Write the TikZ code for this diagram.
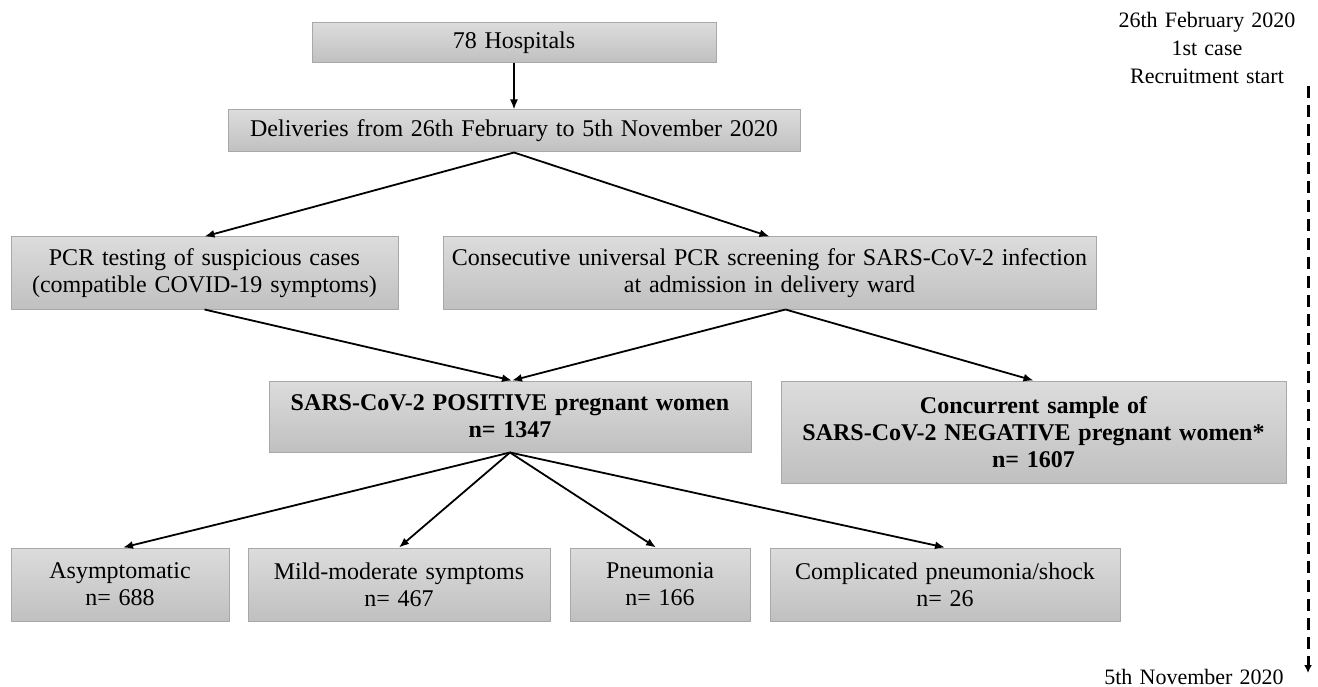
\documentclass[tikz,border=0pt]{standalone}
\usepackage{fontspec}
\setmainfont{Liberation Serif}[WordSpace=1.3]
\usetikzlibrary{arrows.meta,calc}
\definecolor{boxtop}{RGB}{220,220,220}
\definecolor{boxbot}{RGB}{192,192,192}
\definecolor{boxline}{RGB}{168,168,168}
\tikzset{
  box/.style={draw=boxline, line width=1pt, top color=boxtop, bottom color=boxbot,
    align=center, inner sep=0pt, font=\fontsize{24}{27}\selectfont},
  boldbox/.style={box, font=\fontsize{24}{27}\selectfont\bfseries},
  conn/.style={draw=black, line width=1.8pt, -{Latex[length=10pt,width=8pt]}},
  timeline/.style={draw=black, line width=3pt, dash pattern=on 12pt off 7pt,
    -{Latex[length=8pt,width=8pt]}},
  note/.style={align=center, inner sep=0pt, font=\fontsize{22}{28}\selectfont}
}
\begin{document}
\begin{tikzpicture}[x=1pt,y=-1pt]
\useasboundingbox (0,0) rectangle (1318,687);
\fill[white] (0,0) rectangle (1318,687);

\node[box, minimum width=404pt, minimum height=40pt] (hosp) at (514,43) {78 Hospitals};
\node[box, minimum width=572pt, minimum height=42pt] (deliv) at (514,131) {Deliveries from 26th February to 5th November 2020};
\node[box, minimum width=387pt, minimum height=72pt] (pcr) at (204.5,273) {PCR testing of suspicious cases\\(compatible COVID-19 symptoms)};
\node[box, minimum width=653pt, minimum height=72pt] (consec) at (769.5,273) {Consecutive universal PCR screening for SARS-CoV-2 infection\\at admission in delivery ward};
\node[boldbox, minimum width=482pt, minimum height=71pt] (pos) at (510,416.5) {SARS-CoV-2 POSITIVE pregnant women\\n= 1347};
\node[boldbox, minimum width=505pt, minimum height=102pt] (neg) at (1033.5,432) {Concurrent sample of\\SARS-CoV-2 NEGATIVE pregnant women*\\n= 1607};
\node[box, minimum width=218pt, minimum height=73pt] (asym) at (120,584.5) {Asymptomatic\\n= 688};
\node[box, minimum width=302pt, minimum height=73pt] (mild) at (399,584.5) {Mild-moderate symptoms\\n= 467};
\node[box, minimum width=180pt, minimum height=73pt] (pneu) at (660,584.5) {Pneumonia\\n= 166};
\node[box, minimum width=350pt, minimum height=73pt] (comp) at (945,584.5) {Complicated pneumonia/shock\\n= 26};

\draw[conn] (hosp.south) -- (deliv.north);
\draw[conn] (deliv.south) -- (pcr.north);
\draw[conn] (deliv.south) -- (consec.north);
\draw[conn] (pcr.south) -- ([xshift=2pt]pos.north);
\draw[conn] ([xshift=16pt]consec.south) -- ([xshift=2pt]pos.north);
\draw[conn] ([xshift=16pt]consec.south) -- (neg.north);
\draw[conn] (pos.south) -- ([xshift=3pt]asym.north);
\draw[conn] (pos.south) -- (mild.north);
\draw[conn] (pos.south) -- ([xshift=-4pt]pneu.north);
\draw[conn] (pos.south) -- (comp.north);

\node[note] (tstarttext) at (1207,48) {26th February 2020\\1st case\\Recruitment start};
\node[note] (tendtext) at (1194,677) {5th November 2020};
\coordinate (tstart) at (1308,86);
\coordinate (tend) at (1308,673);
\draw[timeline] (tstart) -- (tend);
\end{tikzpicture}
\end{document}
